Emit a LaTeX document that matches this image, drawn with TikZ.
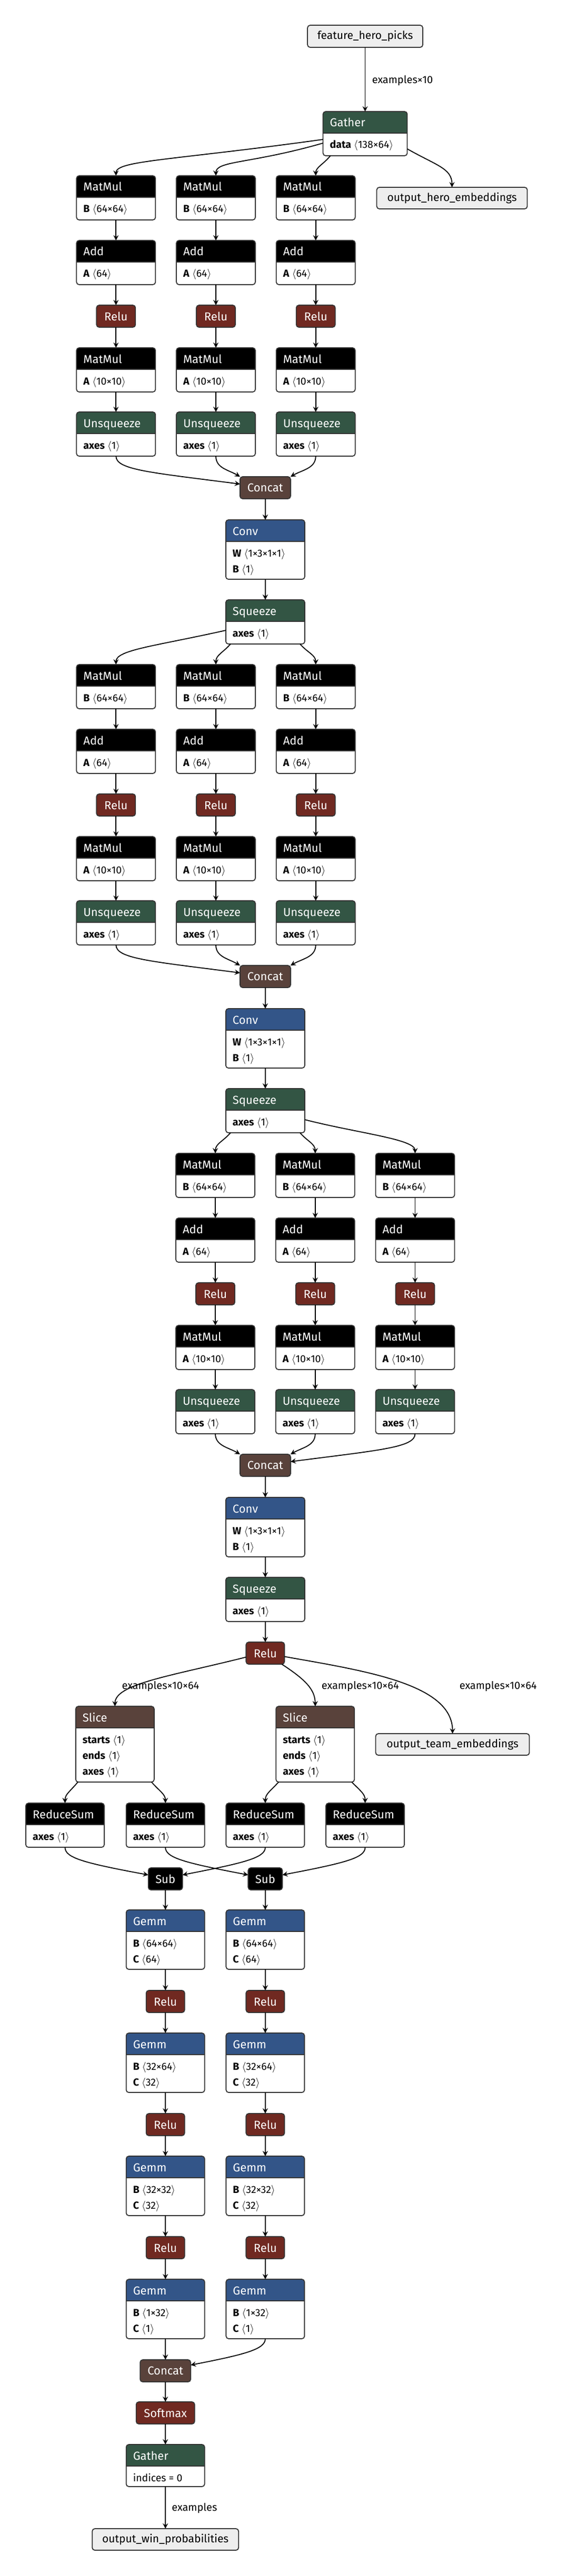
\documentclass[tikz,border=0pt]{standalone}
\usepackage{fontspec}
\setmainfont{Fira Sans}
\usetikzlibrary{arrows.meta}
\definecolor{layer}{RGB}{51,85,136}
\definecolor{act}{RGB}{112,41,33}
\definecolor{trans}{RGB}{51,85,68}
\definecolor{tensor}{RGB}{89,66,59}
\definecolor{bord}{RGB}{51,51,51}
\definecolor{inbg}{RGB}{238,238,238}
\newcommand\shp[1]{$\langle$#1$\rangle$}
\newcommand\hfont{\fontsize{11}{13}\selectfont}
\newcommand\iofont{\fontsize{10.5}{12}\selectfont}
\newcommand\bfnt{\fontsize{9.75}{11}\selectfont}
\newcommand\lblfnt{\fontsize{10}{12}\selectfont}
\tikzset{
 opshape/.style={rectangle, draw=none, inner sep=0pt, outer sep=0pt, anchor=north},
 hdr/.style={anchor=base west, inner sep=0pt, text=white, font=\hfont},
 btxt/.style={anchor=base west, inner sep=0pt, text=black, font=\bfnt},
 simple/.style={rectangle, draw=bord, line width=0.9pt, rounded corners=2.5pt, text=white, font=\hfont, inner sep=0pt, outer sep=0pt, minimum height=21pt, anchor=north},
 io/.style={rectangle, draw=bord, line width=0.9pt, rounded corners=2.5pt, fill=inbg, text=black, font=\iofont, inner sep=0pt, outer sep=0pt, minimum height=20.5pt, anchor=north},
 edge/.style={draw=black, line width=0.9pt, -{Stealth[length=5pt,width=5pt,inset=1.8pt]}},
 elabel/.style={anchor=west, inner sep=0pt, font=\lblfnt, text=black},
}
% name, cx, top, width(px), height(px), colour, title
\newcommand\opnode[7]{%
 \node[opshape, minimum width={#4*0.5pt}, minimum height={#5*0.5pt}] (#1) at (#2,#3) {};
 \begin{scope}
  \clip[rounded corners=2.5pt] (#1.south west) rectangle (#1.north east);
  \fill[white] (#1.south west) rectangle (#1.north east);
  \fill[#6] (#1.north west) rectangle ([yshift=-20.5pt]#1.north east);
 \end{scope}
 \draw[bord, line width=1.2pt] ([yshift=-20.5pt]#1.north west) -- ([yshift=-20.5pt]#1.north east);
 \draw[bord, line width=0.9pt, rounded corners=2.5pt] (#1.south west) rectangle (#1.north east);
 \node[hdr] at ([xshift=6.35pt,yshift=-14.5pt]#1.north west) {#7};
}
\newcommand\brow[3]{\node[btxt] at ([xshift=6.35pt,yshift={-(35+15*(#2-1))*1pt}]#1.north west) {#3};}
% column of MatMul/Add/Relu/MatMul/Unsqueeze
\newcommand\colnodes[3]{%
 \opnode{#1mm}{#3}{#2}{150}{84}{black}{MatMul}
 \brow{#1mm}{1}{\textbf{B} \shp{64×64}}
 \opnode{#1add}{#3}{#2+123}{150}{84}{black}{Add}
 \brow{#1add}{1}{\textbf{A} \shp{64}}
 \node[simple, fill=act, minimum width=37pt] (#1relu) at (#3,#2+246) {Relu};
 \opnode{#1mmb}{#3}{#2+327}{150}{84}{black}{MatMul}
 \brow{#1mmb}{1}{\textbf{A} \shp{10×10}}
 \opnode{#1uns}{#3}{#2+449}{150}{84}{trans}{Unsqueeze}
 \brow{#1uns}{1}{\textbf{axes} \shp{1}}
 \draw[edge] (#1mm) -- (#1add);
 \draw[edge] (#1add) -- (#1relu);
 \draw[edge] (#1relu) -- (#1mmb);
 \draw[edge] (#1mmb) -- (#1uns);
}
% Concat / Conv / Squeeze
\newcommand\trunk[2]{%
 \node[simple, fill=tensor, minimum width=48pt] (#1cat) at (510,#2+572) {Concat};
 \opnode{#1conv}{510}{#2+654}{150}{113}{layer}{Conv}
 \brow{#1conv}{1}{\textbf{W} \shp{1×3×1×1}}
 \brow{#1conv}{2}{\textbf{B} \shp{1}}
 \opnode{#1sq}{510}{#2+806}{150}{84}{trans}{Squeeze}
 \brow{#1sq}{1}{\textbf{axes} \shp{1}}
 \draw[edge] (#1cat) -- (#1conv);
 \draw[edge] (#1conv) -- (#1sq);
}
\newcommand\catL[1]{%
 \draw[edge] (#1Auns.south) .. controls +(0,26) and +(-172,-22) .. ([yshift=3.5pt]#1cat.west);
 \draw[edge] (#1Buns.south) .. controls +(0,23) and +(-22,-13) .. (#1cat.north west);
 \draw[edge] (#1Cuns.south) .. controls +(0,23) and +(23,-13) .. (#1cat.north east);
}
\newcommand\catR[1]{%
 \draw[edge] (#1Auns.south) .. controls +(0,23) and +(-22,-13) .. (#1cat.north west);
 \draw[edge] (#1Buns.south) .. controls +(0,23) and +(23,-13) .. (#1cat.north east);
 \draw[edge] (#1Cuns.south) .. controls +(0,26) and +(172,-22) .. ([yshift=3.5pt]#1cat.east);
}
% Gemm column
\newcommand\gemmcol[2]{%
 \opnode{#1ga}{#2}{3630}{149}{113}{layer}{Gemm}
 \brow{#1ga}{1}{\textbf{B} \shp{64×64}}
 \brow{#1ga}{2}{\textbf{C} \shp{64}}
 \node[simple, fill=act, minimum width=36.5pt] (#1ra) at (#2,3783) {Relu};
 \opnode{#1gb}{#2}{3864}{149}{113}{layer}{Gemm}
 \brow{#1gb}{1}{\textbf{B} \shp{32×64}}
 \brow{#1gb}{2}{\textbf{C} \shp{32}}
 \node[simple, fill=act, minimum width=36.5pt] (#1rb) at (#2,4017) {Relu};
 \opnode{#1gc}{#2}{4098}{149}{113}{layer}{Gemm}
 \brow{#1gc}{1}{\textbf{B} \shp{32×32}}
 \brow{#1gc}{2}{\textbf{C} \shp{32}}
 \node[simple, fill=act, minimum width=36.5pt] (#1rc) at (#2,4251) {Relu};
 \opnode{#1gd}{#2}{4332}{149}{113}{layer}{Gemm}
 \brow{#1gd}{1}{\textbf{B} \shp{1×32}}
 \brow{#1gd}{2}{\textbf{C} \shp{1}}
 \draw[edge] (#1ga) -- (#1ra);
 \draw[edge] (#1ra) -- (#1gb);
 \draw[edge] (#1gb) -- (#1rb);
 \draw[edge] (#1rb) -- (#1gc);
 \draw[edge] (#1gc) -- (#1rc);
 \draw[edge] (#1rc) -- (#1gd);
}
\begin{document}
\begin{tikzpicture}[x=0.494pt,y=-0.5pt]
\useasboundingbox[fill=white] (0,0) rectangle (1089.1,4896);

% ---- input and first Gather
\node[io, minimum width=109.5pt, minimum height=21pt] (fhp) at (702,48) {feature\_hero\_picks};
\opnode{g0}{702}{212}{160}{84}{trans}{Gather}
\brow{g0}{1}{\textbf{data} \shp{138×64}}
\node[io, minimum width=143pt] (ohe) at (869,356) {output\_hero\_embeddings};
\draw[edge] (fhp) -- (g0);
\node[elabel] (lab0) at (715,153) {examples×10};

% ---- block 1
\colnodes{aA}{334}{223}
\colnodes{aB}{334}{415}
\colnodes{aC}{334}{607}
\trunk{a}{334}
\catL{a}
\draw[edge] ([yshift=-26.5pt]g0.north west) .. controls +(-291,40) and +(0,-29) .. (aAmm.north);
\draw[edge] ([yshift=-30pt]g0.north west) .. controls +(-141,40) and +(0,-29) .. (aBmm.north);
\draw[edge] ([xshift=7pt]g0.south west) .. controls +(-13,16) and +(0,-16) .. (aCmm.north);
\draw[edge] ([yshift=-35.5pt]g0.north east) .. controls +(57,32) and +(0,-36) .. (ohe.north);

% ---- block 2
\colnodes{bA}{1263}{223}
\colnodes{bB}{1263}{415}
\colnodes{bC}{1263}{607}
\trunk{b}{1263}
\catL{b}
\draw[edge] ([yshift=-29pt]asq.north west) .. controls +(-135,30) and +(0,-28) .. (bAmm.north);
\draw[edge] ([xshift=4.5pt]asq.south west) .. controls +(-14,16) and +(0,-18) .. (bBmm.north);
\draw[edge] ([xshift=-4.5pt]asq.south east) .. controls +(14,16) and +(0,-18) .. (bCmm.north);

% ---- block 3
\colnodes{cA}{2192}{414}
\colnodes{cB}{2192}{606}
\colnodes{cC}{2192}{798}
\trunk{c}{2192}
\catR{c}
\draw[edge] ([xshift=4.5pt]bsq.south west) .. controls +(-14,16) and +(0,-18) .. (cAmm.north);
\draw[edge] ([xshift=-4.5pt]bsq.south east) .. controls +(14,16) and +(0,-18) .. (cBmm.north);
\draw[edge] ([yshift=-29.5pt]bsq.north east) .. controls +(103,26) and +(0,-27) .. (cCmm.north);

% ---- Relu and slices
\node[simple, fill=act, minimum width=36.5pt] (fr) at (510,3121) {Relu};
\draw[edge] (csq) -- (fr);
\opnode{sa}{221}{3243}{149}{144}{tensor}{Slice}
\brow{sa}{1}{\textbf{starts} \shp{1}}
\brow{sa}{2}{\textbf{ends} \shp{1}}
\brow{sa}{3}{\textbf{axes} \shp{1}}
\opnode{sb}{606}{3243}{149}{144}{tensor}{Slice}
\brow{sb}{1}{\textbf{starts} \shp{1}}
\brow{sb}{2}{\textbf{ends} \shp{1}}
\brow{sb}{3}{\textbf{axes} \shp{1}}
\node[io, minimum width=146pt] (ote) at (870,3295) {output\_team\_embeddings};
\node[elabel] (lab1) at (234,3205) {examples×10×64};
\node[elabel] (lab2) at (618,3205) {examples×10×64};
\node[elabel] (lab3) at (883,3205) {examples×10×64};
\draw[edge] ([yshift=-3.75pt]fr.west) .. controls +(-144,36) and +(0,-43) .. (sa.north);
\draw[edge] ([xshift=-2.5pt]fr.south east) .. controls +(43,28) and +(0,-33) .. (sb.north);
\draw[edge] ([yshift=-3.25pt]fr.east) .. controls +(153,27) and +(0,-95) .. (ote.north);

% ---- ReduceSum
\foreach \n/\x in {ra/125, rb/318, rc/510, rd/702}{
 \opnode{\n}{\x}{3427}{149}{84}{black}{ReduceSum}
 \brow{\n}{1}{\textbf{axes} \shp{1}}
}
\draw[edge] ([xshift=2pt]sa.south west) .. controls +(-15,18) and +(0,-17) .. (ra.north);
\draw[edge] ([xshift=-2.5pt]sa.south east) .. controls +(16,18) and +(0,-17) .. (rb.north);
\draw[edge] ([xshift=2.5pt]sb.south west) .. controls +(-17,18) and +(0,-17) .. (rc.north);
\draw[edge] ([xshift=-2.5pt]sb.south east) .. controls +(18,18) and +(0,-17) .. (rd.north);

% ---- Sub
\node[simple, fill=black, minimum width=32.5pt] (suba) at (318,3550) {Sub};
\node[simple, fill=black, minimum width=32.5pt] (subb) at (510,3550) {Sub};
\draw[edge] (ra.south) .. controls +(0,20) and +(-125,-23) .. ([yshift=3.75pt]suba.west);
\draw[edge] (rc.south) .. controls +(0,20) and +(119,-23) .. ([yshift=3.75pt]suba.east);
\draw[edge] (rb.south) .. controls +(0,20) and +(-122,-23) .. ([yshift=3.75pt]subb.west);
\draw[edge] (rd.south) .. controls +(0,20) and +(122,-23) .. ([yshift=3.75pt]subb.east);

% ---- Gemm columns
\gemmcol{L}{318}
\gemmcol{R}{510}
\draw[edge] (suba) -- (Lga);
\draw[edge] (subb) -- (Rga);

% ---- tail
\node[simple, fill=tensor, minimum width=48pt] (fcat) at (318,4485) {Concat};
\draw[edge] (Lgd) -- (fcat);
\draw[edge] (Rgd.south) .. controls +(0,20) and +(104,-20) .. ([yshift=5.5pt]fcat.east);
\node[simple, fill=act, minimum width=55.5pt] (smax) at (318,4565) {Softmax};
\draw[edge] (fcat) -- (smax);
\opnode{g1}{318}{4646}{149}{80}{trans}{Gather}
\brow{g1}{1}{indices = 0}
\draw[edge] (smax) -- (g1);
\node[io, minimum width=139pt] (owp) at (318,4806) {output\_win\_probabilities};
\draw[edge] (g1) -- (owp);
\node[elabel] (lab4) at (330,4767) {examples};
\end{tikzpicture}
\end{document}
